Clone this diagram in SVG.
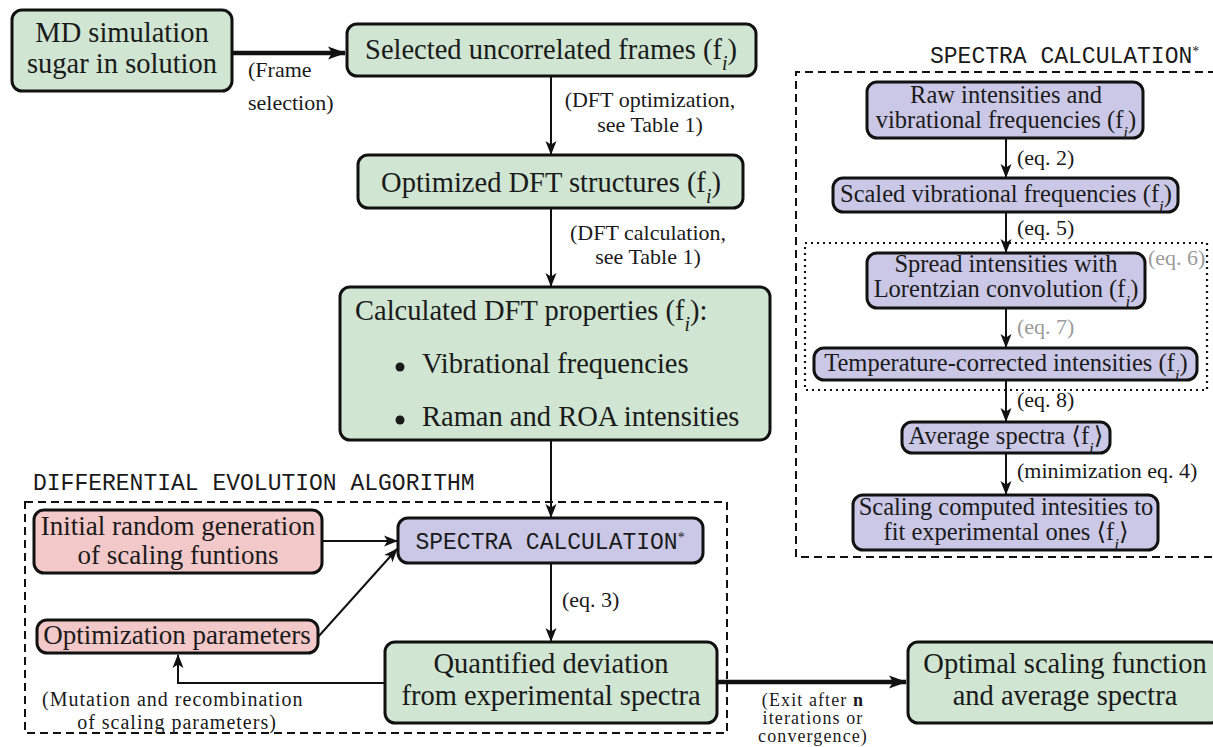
<svg xmlns="http://www.w3.org/2000/svg" width="1213" height="747" viewBox="0 0 1213 747">
<defs>
<style>
.box{stroke:#111;stroke-width:3}
.g{fill:#d0e5d2}
.p{fill:#cac8e6}
.r{fill:#f3c8c8}
text{font-family:"Liberation Serif","DejaVu Serif",serif;fill:#1a1a1a}
.t{font-size:28.5px}
.ti{font-size:27px}
.s{font-size:24.5px}
.l{font-size:22px}
.mu{font-size:20px;letter-spacing:1px}
.x{font-size:18px;letter-spacing:1.1px}
.gr{fill:#9a9a9a}
.m{font-family:"Liberation Mono","DejaVu Sans Mono",monospace;font-size:23px}
.c{text-anchor:middle}
.sub{font-style:italic;font-size:70%;baseline-shift:sub}
.sup{font-family:"Liberation Serif",serif;font-size:60%;baseline-shift:super}
.ln{fill:none;stroke:#111;stroke-width:2}
.thick{fill:none;stroke:#111;stroke-width:4.5}
.dash{fill:none;stroke:#111;stroke-width:2;stroke-dasharray:8 5}
.dot{fill:none;stroke:#111;stroke-width:2.2;stroke-dasharray:2 4}
</style>
<marker id="ah" markerUnits="userSpaceOnUse" markerWidth="14" markerHeight="12" viewBox="0 0 14 12" refX="13" refY="6" orient="auto">
<path d="M0,0.5 L14,6 L0,11.5 L3.5,6 z" fill="#111"/>
</marker>
<marker id="ahb" markerUnits="userSpaceOnUse" markerWidth="18" markerHeight="14" viewBox="0 0 18 14" refX="17" refY="7" orient="auto">
<path d="M0,0.5 L18,7 L0,13.5 L4,7 z" fill="#111"/>
</marker>
</defs>
<rect width="1213" height="747" fill="#fff"/>

<g id="frames">
<rect class="dash" x="25" y="502" width="702" height="231"/>
<text class="m" x="33" y="490">DIFFERENTIAL EVOLUTION ALGORITHM</text>
<path class="dash" d="M1216,72 H796 V557 H1216"/>
<text class="m" x="930" y="63">SPECTRA CALCULATION<tspan class="sup">*</tspan></text>
<rect class="dot" x="805" y="243" width="402" height="147"/>
</g>

<g id="connectors">
<line class="thick" x1="232" y1="53" x2="345" y2="53" marker-end="url(#ahb)"/>
<line class="ln" x1="551" y1="76" x2="551" y2="154" marker-end="url(#ah)"/>
<line class="ln" x1="551" y1="208" x2="551" y2="286" marker-end="url(#ah)"/>
<line class="ln" x1="551" y1="440" x2="551" y2="517" marker-end="url(#ah)"/>
<line class="ln" x1="322" y1="541" x2="397" y2="541" marker-end="url(#ah)"/>
<line class="ln" x1="318" y1="637" x2="397" y2="549" marker-end="url(#ah)"/>
<line class="ln" x1="551" y1="563" x2="551" y2="641" marker-end="url(#ah)"/>
<path class="ln" d="M385,683 H178 V655" marker-end="url(#ah)"/>
<line class="thick" x1="717" y1="682" x2="906" y2="682" marker-end="url(#ahb)"/>
<line class="ln" x1="1006" y1="138" x2="1006" y2="177" marker-end="url(#ah)"/>
<line class="ln" x1="1006" y1="212" x2="1006" y2="252" marker-end="url(#ah)"/>
<line class="ln" x1="1006" y1="308" x2="1006" y2="347" marker-end="url(#ah)"/>
<line class="ln" x1="1006" y1="380" x2="1006" y2="421" marker-end="url(#ah)"/>
<line class="ln" x1="1006" y1="453" x2="1006" y2="494" marker-end="url(#ah)"/>
<text class="l" x="248" y="77">(Frame</text>
<text class="l" x="248" y="110">selection)</text>
<text class="l c" x="650" y="107">(DFT optimization,</text>
<text class="l c" x="650" y="132">see Table 1)</text>
<text class="l c" x="648" y="240">(DFT calculation,</text>
<text class="l c" x="648" y="264">see Table 1)</text>
<text class="l" x="562" y="607">(eq. 3)</text>
<text class="mu" x="42" y="706">(Mutation and recombination</text>
<text class="mu c" x="177" y="729">of scaling parameters)</text>
<text class="x c" x="813" y="706">(Exit after <tspan font-weight="bold">n</tspan></text>
<text class="x c" x="813" y="724">iterations or</text>
<text class="x c" x="813" y="742">convergence)</text>
<text class="l" x="1017" y="165">(eq. 2)</text>
<text class="l" x="1017" y="235">(eq. 5)</text>
<text class="l gr" x="1148" y="265">(eq. 6)</text>
<text class="l gr" x="1017" y="334">(eq. 7)</text>
<text class="l" x="1017" y="407">(eq. 8)</text>
<text class="l" x="1017" y="478">(minimization eq. 4)</text>
</g>

<g id="md">
<rect class="box g" x="12" y="10" width="220" height="81" rx="10"/>
<text class="t c" x="122" y="42">MD simulation</text>
<text class="t c" x="122" y="73">sugar in solution</text>
</g>
<g id="selected">
<rect class="box g" x="347" y="24" width="409" height="52" rx="10"/>
<text class="t c" x="551" y="59">Selected uncorrelated frames (f<tspan class="sub">i</tspan>)</text>
</g>
<g id="optimized">
<rect class="box g" x="358" y="155" width="385" height="53" rx="10"/>
<text class="t c" x="551" y="192">Optimized DFT structures (f<tspan class="sub">i</tspan>)</text>
</g>
<g id="calculated">
<rect class="box g" x="340" y="287" width="430" height="153" rx="10"/>
<text class="t" x="355" y="320">Calculated DFT properties (f<tspan class="sub">i</tspan>):</text>
<circle cx="400" cy="367" r="4.5" fill="#1a1a1a"/>
<text class="t" x="422" y="373">Vibrational frequencies</text>
<circle cx="400" cy="420" r="4.5" fill="#1a1a1a"/>
<text class="t" x="422" y="426">Raman and ROA intensities</text>
</g>
<g id="initial">
<rect class="box r" x="34" y="510" width="288" height="63" rx="10"/>
<text class="ti c" x="178" y="535">Initial random generation</text>
<text class="ti c" x="178" y="564">of scaling funtions</text>
</g>
<g id="optparams">
<rect class="box r" x="37" y="620" width="281" height="33" rx="10"/>
<text class="ti c" x="177" y="644">Optimization parameters</text>
</g>
<g id="spectra">
<rect class="box p" x="398" y="518" width="305" height="45" rx="10"/>
<text class="m c" x="550" y="549">SPECTRA CALCULATION<tspan class="sup">*</tspan></text>
</g>
<g id="quantified">
<rect class="box g" x="385" y="642" width="332" height="81" rx="10"/>
<text class="t c" x="551" y="673">Quantified deviation</text>
<text class="t c" x="551" y="705">from experimental spectra</text>
</g>
<g id="optimal">
<rect class="box g" x="908" y="642" width="312" height="81" rx="10"/>
<text class="t c" x="1065" y="673">Optimal scaling function</text>
<text class="t c" x="1065" y="705">and average spectra</text>
</g>
<g id="raw">
<rect class="box p" x="867" y="82" width="276" height="56" rx="10"/>
<text class="s c" x="1006" y="103">Raw intensities and</text>
<text class="s c" x="1006" y="128">vibrational frequencies (f<tspan class="sub">i</tspan>)</text>
</g>
<g id="scaled">
<rect class="box p" x="833" y="178" width="345" height="34" rx="10"/>
<text class="s c" x="1006" y="202">Scaled vibrational frequencies (f<tspan class="sub">i</tspan>)</text>
</g>
<g id="spread">
<rect class="box p" x="867" y="253" width="278" height="55" rx="10"/>
<text class="s c" x="1006" y="272">Spread intensities with</text>
<text class="s c" x="1006" y="297">Lorentzian convolution (f<tspan class="sub">i</tspan>)</text>
</g>
<g id="temperature">
<rect class="box p" x="814" y="348" width="383" height="32" rx="10"/>
<text class="s c" x="1006" y="371">Temperature-corrected intensities (f<tspan class="sub">i</tspan>)</text>
</g>
<g id="average">
<rect class="box p" x="902" y="422" width="208" height="31" rx="10"/>
<text class="s c" x="1006" y="444">Average spectra ⟨f<tspan class="sub">i</tspan>⟩</text>
</g>
<g id="scaling">
<rect class="box p" x="853" y="495" width="305" height="55" rx="10"/>
<text class="s c" x="1006" y="515">Scaling computed intesities to</text>
<text class="s c" x="1006" y="540">fit experimental ones ⟨f<tspan class="sub">i</tspan>⟩</text>
</g>
</svg>
